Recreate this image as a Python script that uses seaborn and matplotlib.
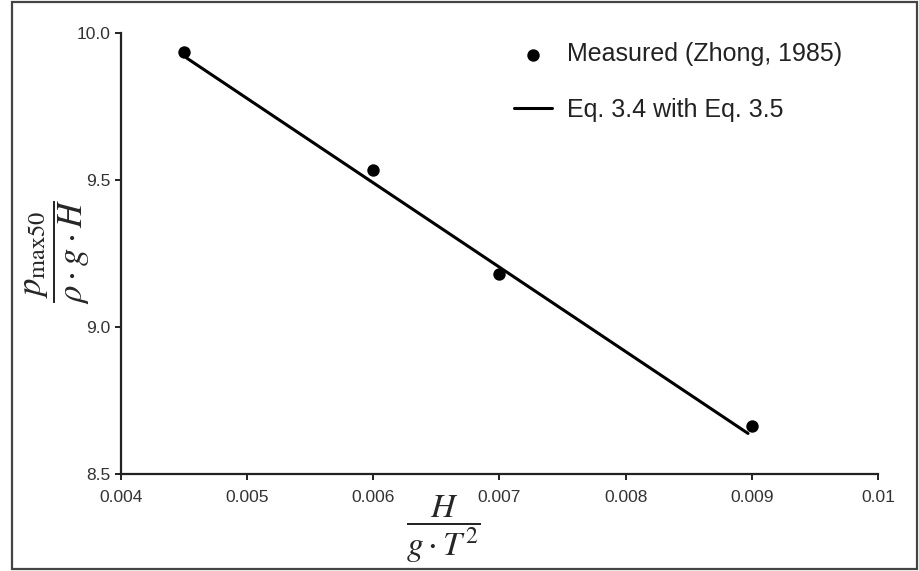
import matplotlib
matplotlib.use("Agg")
import matplotlib.pyplot as plt
import matplotlib.patches as mpatches
from matplotlib.ticker import FixedLocator, FixedFormatter
import seaborn as sns
import pandas as pd

# Measured data (Zhong, 1985)
measured_x = [0.0045, 0.0060, 0.0070, 0.0090]
measured_y = [9.935, 9.535, 9.18, 8.665]

# Eq. 3.4 with Eq. 3.5 (straight line over the measured range)
eq_x = [0.00452, 0.00897]
eq_y = [9.916, 8.638]

x_ticks = [0.004, 0.005, 0.006, 0.007, 0.008, 0.009, 0.010]
x_tick_labels = ["0.004", "0.005", "0.006", "0.007", "0.008", "0.009", "0.01"]
y_ticks = [8.5, 9.0, 9.5, 10.0]
y_tick_labels = ["8.5", "9.0", "9.5", "10.0"]

sns.set_style("ticks")
plt.rcParams["font.family"] = ["Liberation Sans", "DejaVu Sans"]
plt.rcParams["mathtext.fontset"] = "stix"

W, H = 920, 571
fig = plt.figure(figsize=(W / 100, H / 100), dpi=100)
ax = fig.add_axes([121 / W, 1 - 474 / H, (878 - 121) / W, (474 - 33.3) / H])

meas = pd.DataFrame({"x": measured_x, "y": measured_y})
eq = pd.DataFrame({"x": eq_x, "y": eq_y})

sns.lineplot(data=eq, x="x", y="y", ax=ax, color="black", linewidth=2.2,
             label="Eq. 3.4 with Eq. 3.5", zorder=2)
sns.scatterplot(data=meas, x="x", y="y", ax=ax, color="black", s=80,
                edgecolor="black", linewidth=0, label="Measured (Zhong, 1985)",
                zorder=3)

ax.set_xlim(0.004, 0.010)
ax.set_ylim(8.5, 10.0)
ax.xaxis.set_major_locator(FixedLocator(x_ticks))
ax.xaxis.set_major_formatter(FixedFormatter(x_tick_labels))
ax.yaxis.set_major_locator(FixedLocator(y_ticks))
ax.yaxis.set_major_formatter(FixedFormatter(y_tick_labels))

sns.despine(ax=ax)
for side in ("left", "bottom"):
    ax.spines[side].set_linewidth(1.6)
    ax.spines[side].set_color("#222222")
ax.tick_params(axis="both", which="major", direction="out", length=4.5,
               width=1.4, color="#222222", labelsize=12.5, labelcolor="#333333")
ax.tick_params(axis="x", pad=7)
ax.tick_params(axis="y", pad=3)

ax.set_xlabel(r"$\dfrac{H}{g\cdot T^{2}}$", fontsize=24.5, va="center")
ax.xaxis.set_label_coords(0.425, -0.125)
ax.set_ylabel(r"$\dfrac{p_{\max 50}}{\rho\cdot g\cdot H}$", fontsize=25,
              va="center", rotation=90)
ax.yaxis.set_label_coords(-0.084, 0.504)

handles, labels = ax.get_legend_handles_labels()
order = [labels.index("Measured (Zhong, 1985)"), labels.index("Eq. 3.4 with Eq. 3.5")]
ax.legend([handles[i] for i in order], [labels[i] for i in order],
          loc="upper left", bbox_to_anchor=(502 / W, 1 - 30 / H),
          bbox_transform=fig.transFigure, frameon=False, fontsize=18,
          borderpad=0, handlelength=1.5, handletextpad=0.6, labelspacing=1.25,
          labelcolor="#222222")

# Outer frame around the whole figure
fig.patches.append(mpatches.Rectangle((12 / W, 2 / H), (917 - 12) / W, (569 - 2) / H,
                                      transform=fig.transFigure, fill=False,
                                      edgecolor="#444444", linewidth=1.6))

fig.savefig("out.png", dpi=100, facecolor="white")
